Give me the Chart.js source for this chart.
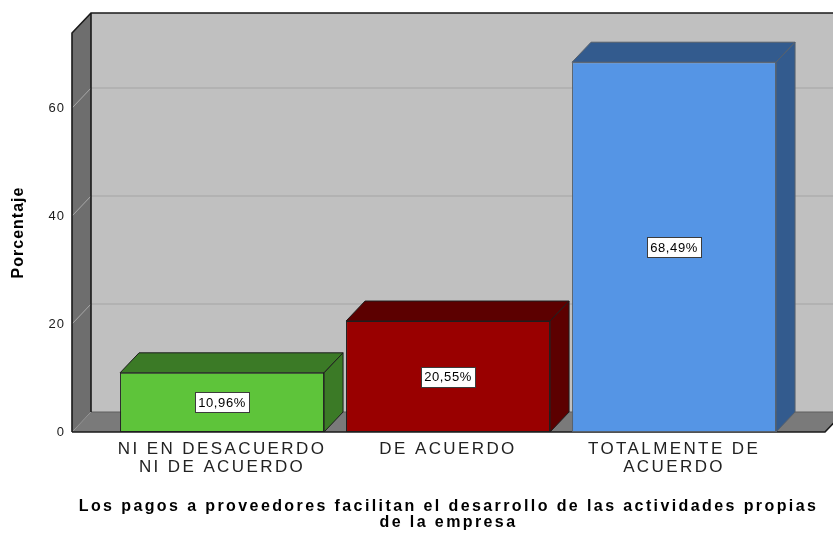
<!DOCTYPE html>
<html lang="es">
<head>
<meta charset="utf-8">
<title>Porcentaje</title>
<script src="https://cdn.jsdelivr.net/npm/chart.js@4.4.1/dist/chart.umd.min.js"></script>
<style>
  html, body { margin: 0; padding: 0; background: #fff; }
  #wrap { width: 833px; height: 535px; position: relative; }
</style>
</head>
<body>
<div id="wrap"><canvas id="pagos_chart"></canvas></div>
<script>
// categorías del eje X
const categories = [
    ['NI EN DESACUERDO', 'NI DE ACUERDO'],
    'DE ACUERDO',
    ['TOTALMENTE DE', 'ACUERDO']
];
// porcentaje de cada categoría
const percentages = [10.96, 20.55, 68.49];
// marcas del eje Y
const yTicks = [0, 20, 40, 60];
const yMax = 73.9;
// extremos del eje X (en posiciones de categoría)
const xMin = -0.664;
const xMax = 2.668;

// colores de las barras (frente, lados, borde)
const frontColors = ['#5ec43a', '#990000', '#5595e5'];
const shadeColors = ['#3b7a26', '#5c0000', '#335b8e'];
const edgeColors = ['#1e1e1e', '#1e1e1e', '#56606c'];

// profundidad del efecto 3D
const DX = 19;
const DY = -20;
const FONT = '"Liberation Sans", Arial, sans-serif';

// dibuja paredes, suelo y caras laterales de las barras
const box3d = {
    id: 'box3d',
    beforeDraw(chart) {
        chart.ctx.letterSpacing = '1px';
    },
    beforeDatasetsDraw(chart) {
        const ctx = chart.ctx;
        const ys = chart.scales.y;
        const left = chart.chartArea.left;
        const right = chart.chartArea.right;
        const top = chart.chartArea.top;
        const bottom = chart.chartArea.bottom;
        ctx.save();
        // pared del fondo
        ctx.fillStyle = '#c0c0c0';
        ctx.fillRect(left + DX, top + DY, right - left, bottom - top);
        // líneas de cuadrícula del fondo
        ctx.strokeStyle = '#aeaeae';
        ctx.lineWidth = 1.5;
        yTicks.forEach(function(v) {
            if (v === 0) return;
            const py = ys.getPixelForValue(v);
            ctx.beginPath();
            ctx.moveTo(left + DX, py + DY);
            ctx.lineTo(right + DX, py + DY);
            ctx.stroke();
        });
        // pared izquierda
        ctx.fillStyle = '#6e6e6e';
        ctx.beginPath();
        ctx.moveTo(left, top);
        ctx.lineTo(left + DX, top + DY);
        ctx.lineTo(left + DX, bottom + DY);
        ctx.lineTo(left, bottom);
        ctx.closePath();
        ctx.fill();
        ctx.strokeStyle = '#a8a8a8';
        ctx.lineWidth = 1;
        yTicks.forEach(function(v) {
            if (v === 0) return;
            const py = ys.getPixelForValue(v);
            ctx.beginPath();
            ctx.moveTo(left, py);
            ctx.lineTo(left + DX, py + DY);
            ctx.stroke();
        });
        // suelo
        ctx.fillStyle = '#7a7a7a';
        ctx.beginPath();
        ctx.moveTo(left, bottom);
        ctx.lineTo(right, bottom);
        ctx.lineTo(right + DX, bottom + DY);
        ctx.lineTo(left + DX, bottom + DY);
        ctx.closePath();
        ctx.fill();
        ctx.strokeStyle = '#5e5e5e';
        ctx.beginPath();
        ctx.moveTo(left + DX, bottom + DY);
        ctx.lineTo(right + DX, bottom + DY);
        ctx.stroke();
        // bordes negros
        ctx.strokeStyle = '#1a1a1a';
        ctx.lineWidth = 1.6;
        ctx.beginPath();
        ctx.moveTo(left, bottom);
        ctx.lineTo(left, top);
        ctx.lineTo(left + DX, top + DY);
        ctx.lineTo(right + DX, top + DY);
        ctx.moveTo(left + DX, top + DY);
        ctx.lineTo(left + DX, bottom + DY);
        ctx.moveTo(left, bottom);
        ctx.lineTo(right, bottom);
        ctx.lineTo(right + DX, bottom + DY);
        ctx.stroke();
        // caras superior y lateral de cada barra
        chart.getDatasetMeta(0).data.forEach(function(bar, i) {
            const p = bar.getProps(['x', 'y', 'base', 'width'], true);
            const l = p.x - p.width / 2;
            const r = p.x + p.width / 2;
            ctx.fillStyle = shadeColors[i];
            ctx.strokeStyle = edgeColors[i];
            ctx.lineWidth = 1;
            ctx.beginPath();
            ctx.moveTo(l, p.y);
            ctx.lineTo(l + DX, p.y + DY);
            ctx.lineTo(r + DX, p.y + DY);
            ctx.lineTo(r, p.y);
            ctx.closePath();
            ctx.fill();
            ctx.stroke();
            ctx.beginPath();
            ctx.moveTo(r, p.y);
            ctx.lineTo(r + DX, p.y + DY);
            ctx.lineTo(r + DX, p.base + DY);
            ctx.lineTo(r, p.base);
            ctx.closePath();
            ctx.fill();
            ctx.stroke();
        });
        ctx.restore();
    },
    afterDatasetsDraw(chart) {
        const ctx = chart.ctx;
        ctx.save();
        ctx.letterSpacing = '0.6px';
        ctx.font = '13px ' + FONT;
        ctx.textAlign = 'center';
        ctx.textBaseline = 'middle';
        // etiquetas de porcentaje
        chart.getDatasetMeta(0).data.forEach(function(bar, i) {
            const p = bar.getProps(['x', 'y', 'base'], true);
            const text = percentages[i].toFixed(2).replace('.', ',') + '%';
            const cy = (p.y + p.base) / 2;
            const w = ctx.measureText(text).width + 6;
            ctx.fillStyle = '#ffffff';
            ctx.fillRect(Math.round(p.x - w / 2) + 0.5, Math.round(cy - 10) + 0.5, Math.round(w), 20);
            ctx.strokeStyle = '#3c3c3c';
            ctx.lineWidth = 1;
            ctx.strokeRect(Math.round(p.x - w / 2) + 0.5, Math.round(cy - 10) + 0.5, Math.round(w), 20);
            ctx.fillStyle = '#000000';
            ctx.fillText(text, p.x, cy + 1);
        });
        ctx.restore();
        // espaciado de letras del eje X
        ctx.letterSpacing = '2.4px';
    },
    afterDraw(chart) {
        chart.ctx.letterSpacing = '0px';
    }
};

// puntos de las barras a partir de los arrays
const points = percentages.map(function(v, i) {
    return { x: i, y: v };
});

const ctx = document.getElementById('pagos_chart').getContext('2d');
const chart = new Chart(ctx, {
    type: 'bar',
    data: {
        datasets: [{
            data: points,
            backgroundColor: frontColors,
            borderColor: edgeColors,
            borderWidth: 1,
            borderSkipped: false,
            barPercentage: 0.9027,
            categoryPercentage: 1
        }]
    },
    options: {
        responsive: true,
        maintainAspectRatio: false,
        animation: false,
        layout: {
            padding: { top: 33, right: 8, left: 0, bottom: 0 }
        },
        scales: {
            x: {
                type: 'linear',
                min: xMin,
                max: xMax,
                offset: false,
                grid: { display: false, drawTicks: false, offset: false, z: 1 },
                border: { display: false },
                afterFit(scale) { scale.height = 103; },
                afterBuildTicks(scale) {
                    scale.ticks = categories.map(function(c, i) { return { value: i }; });
                },
                ticks: {
                    z: 1,
                    padding: 9,
                    autoSkip: false,
                    maxRotation: 0,
                    minRotation: 0,
                    color: '#222222',
                    font: { family: FONT, size: 17, lineHeight: 1.03 },
                    callback: function(value) { return categories[value]; }
                },
                title: {
                    display: true,
                    text: ['Los pagos a proveedores facilitan el desarrollo de las actividades propias', 'de la empresa'],
                    color: '#000000',
                    padding: { top: 4, bottom: 4 },
                    font: { family: FONT, size: 16, weight: 'bold', lineHeight: 1.0 }
                }
            },
            y: {
                min: 0,
                max: yMax,
                grid: { display: false, drawTicks: false },
                border: { display: false },
                afterFit(scale) { scale.width = 72; },
                afterBuildTicks(scale) {
                    scale.ticks = yTicks.map(function(v) { return { value: v }; });
                },
                ticks: {
                    padding: 7,
                    color: '#1a1a1a',
                    font: { family: FONT, size: 13 }
                },
                title: {
                    display: true,
                    text: 'Porcentaje',
                    color: '#000000',
                    padding: { top: 9, bottom: 4 },
                    font: { family: FONT, size: 16, weight: 'bold' }
                }
            }
        },
        plugins: {
            legend: { display: false },
            tooltip: { enabled: false }
        }
    },
    plugins: [box3d]
});
</script>
</body>
</html>
